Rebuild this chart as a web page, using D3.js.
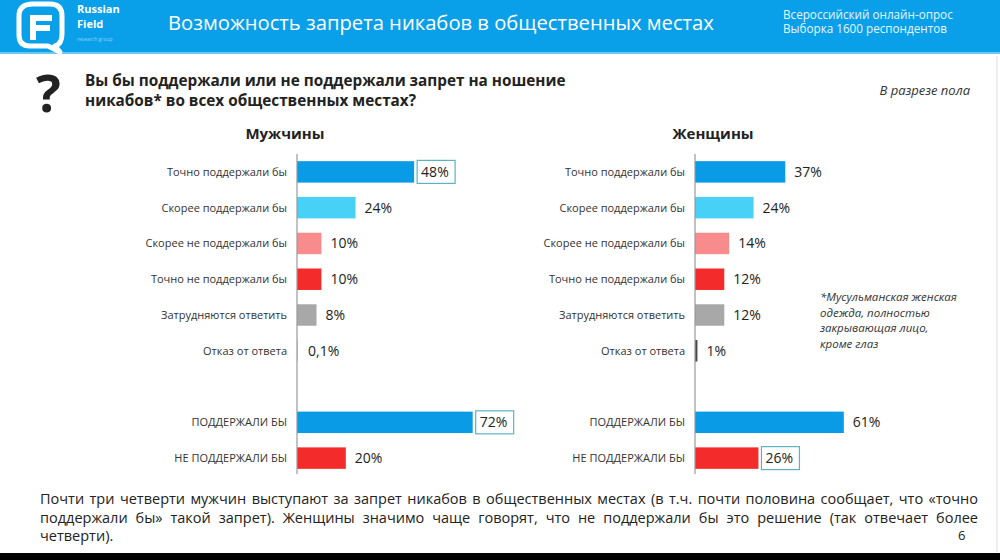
<!DOCTYPE html>
<html><head><meta charset="utf-8">
<script src="https://cdn.jsdelivr.net/npm/d3@7"></script>
<style>
body{margin:0;background:#fff;}
svg{display:block;}
text{font-family:"Open Sans",sans-serif;}
</style></head>
<body>
<svg id="c" width="1000" height="560"></svg>
<script>
// ---- data ----
const categories = ["Точно поддержали бы","Скорее поддержали бы","Скорее не поддержали бы","Точно не поддержали бы","Затрудняются ответить","Отказ от ответа"];
const menValues = [48,24,10,10,8,0.1];
const womenValues = [37,24,14,12,12,1];
const summaryCategories = ["ПОДДЕРЖАЛИ БЫ","НЕ ПОДДЕРЖАЛИ БЫ"];
const menSummary = [72,20];
const womenSummary = [61,26];
const menBoxed = ["Точно поддержали бы","ПОДДЕРЖАЛИ БЫ"];
const womenBoxed = ["НЕ ПОДДЕРЖАЛИ БЫ"];
const catColors = ["#0a9be6","#48d1f6","#f88c8c","#f42b2b","#a8a8a8","#4a4a4a"];
const summaryColors = ["#0a9be6","#f42b2b"];

const svg = d3.select("#c");

// header
svg.append("rect").attr("x",0).attr("y",0).attr("width",1000).attr("height",54).attr("fill","#0aa0e9");
svg.append("rect").attr("x",0).attr("y",52).attr("width",1000).attr("height",2).attr("fill","#6cc6f2");
// logo
const lg = svg.append("g").attr("fill","none").attr("stroke","#fff");
lg.append("path").attr("d","M33,4 H50 Q62,4 62,16 V34 Q62,44 55,46 L60,52 L48,46 H30 Q19,46 19,35 V16 Q19,4 33,4 Z").attr("stroke-width",5).attr("stroke-linejoin","round");
svg.append("path").attr("d","M30,15 H52 V21 H36 V25 H50 V31 H36 V40 H30 Z").attr("fill","#fff");
svg.append("text").attr("x",77).attr("y",13).text("Russian").attr("fill","#fff").attr("font-size",11).attr("font-weight","bold");
svg.append("text").attr("x",77).attr("y",28).text("Field").attr("fill","#fff").attr("font-size",11).attr("font-weight","bold");
svg.append("text").attr("x",77).attr("y",41).text("research group").attr("fill","#8fd3f6").attr("font-size",5);

svg.append("text").attr("x",168).attr("y",30).text("Возможность запрета никабов в общественных местах")
  .attr("fill","#fff").attr("font-size",20.2);
svg.append("text").attr("x",783).attr("y",19).text("Всероссийский онлайн-опрос").attr("fill","#e6f5fd").attr("font-size",11.7);
svg.append("text").attr("x",783).attr("y",33).text("Выборка 1600 респондентов").attr("fill","#e6f5fd").attr("font-size",11.7);

// question
svg.append("text").attr("x",36).attr("y",112).text("?").attr("font-size",52).attr("font-weight","bold").attr("fill","#222");
svg.append("text").attr("x",85).attr("y",86).text("Вы бы поддержали или не поддержали запрет на ношение").attr("font-size",15.3).attr("font-weight","bold").attr("fill","#222");
svg.append("text").attr("x",85).attr("y",106).text("никабов* во всех общественных местах?").attr("font-size",15.3).attr("font-weight","bold").attr("fill","#222");
svg.append("text").attr("x",970).attr("y",95).attr("text-anchor","end").text("В разрезе пола").attr("font-size",13).attr("font-style","italic").attr("fill","#333");

// footnote
["*Мусульманская женская","одежда, полностью","закрывающая лицо,","кроме глаз"].forEach((t,i)=>{
  svg.append("text").attr("x",820).attr("y",301+i*15.5).text(t).attr("font-size",11.5).attr("font-style","italic").attr("fill","#333");
});

// scales
const rows = categories.concat(["__gap"], summaryCategories);
const y = d3.scaleBand().domain(rows).range([154,476]).paddingInner(0.4).paddingOuter(0.2);
const x = d3.scaleLinear().domain([0,100]).range([0,244]);
const fmt = v => (v<1 ? String(v).replace(".",",") : d3.format("d")(v)) + "%";

function panel(x0, title, values, summary, boxed, titleX){
  const g = svg.append("g").attr("transform",`translate(${x0},0)`);
  svg.append("text").attr("x",titleX).attr("y",139).attr("text-anchor","middle").text(title)
    .attr("font-size",15).attr("font-weight","bold").attr("fill","#222");
  const data = categories.map((c,i)=>({c, v:values[i], col:catColors[i]}))
    .concat(summaryCategories.map((c,i)=>({c, v:summary[i], col:summaryColors[i]})));
  g.selectAll("rect.bar").data(data).join("rect").attr("class","bar")
    .attr("x",0).attr("y",d=>y(d.c)).attr("height",y.bandwidth())
    .attr("width",d=>Math.max(x(d.v), d.v>=1?2:0)).attr("fill",d=>d.col);
  g.selectAll("text.cat").data(data).join("text").attr("class","cat")
    .attr("x",-10).attr("y",d=>y(d.c)+y.bandwidth()/2).attr("dy","0.35em")
    .attr("text-anchor","end").attr("font-size",11).attr("fill","#333").text(d=>d.c);
  const lab = g.selectAll("g.val").data(data).join("g").attr("class","val")
    .attr("transform",d=>`translate(${Math.max(x(d.v),2)+ (boxed.includes(d.c)?3:9)},${y(d.c)+y.bandwidth()/2})`);
  lab.filter(d=>boxed.includes(d.c)).append("rect").attr("x",0).attr("y",-11.5).attr("width",38).attr("height",23)
    .attr("fill","#fff").attr("stroke","#5ab4c4").attr("stroke-width",1.2);
  lab.append("text").attr("x",d=>boxed.includes(d.c)?4:0).attr("dy","0.36em")
    .attr("font-family","DejaVu Sans, sans-serif").attr("font-size",14).attr("fill","#222").text(d=>fmt(d.v));
  // axis
  g.append("line").attr("x1",0).attr("x2",0).attr("y1",154).attr("y2",474).attr("stroke","#999").attr("stroke-width",1.2);
}
panel(297,"Мужчины",menValues,menSummary,menBoxed,285);
panel(695,"Женщины",womenValues,womenSummary,womenBoxed,713);

// bottom text (justified via word spacing)
const bt = svg.append("g").attr("font-family","'Liberation Sans Narrow', 'DejaVu Sans Condensed', sans-serif")
  .attr("font-size",14.5).attr("fill","#222");
const lines = ["Почти три четверти мужчин выступают за запрет никабов в общественных местах (в т.ч. почти половина сообщает, что «точно",
 "поддержали бы» такой запрет). Женщины значимо чаще говорят, что не поддержали бы это решение (так отвечает более",
 "четверти)."];
lines.forEach((t,i)=>{
  const tx = bt.append("text").attr("x",40).attr("y",504+i*18.5).text(t);
  if(i<2){
    const w = tx.node().getComputedTextLength();
    const spaces = t.split(" ").length-1;
    tx.attr("word-spacing", Math.max(0,(938-w)/spaces));
  }
});
svg.append("text").attr("x",958).attr("y",540).text("6").attr("font-size",13).attr("fill","#222");

svg.append("line").attr("x1",997).attr("x2",997).attr("y1",56).attr("y2",552).attr("stroke","#ddd");
svg.append("rect").attr("x",0).attr("y",553).attr("width",1000).attr("height",7).attr("fill","#000");
</script>
</body></html>
